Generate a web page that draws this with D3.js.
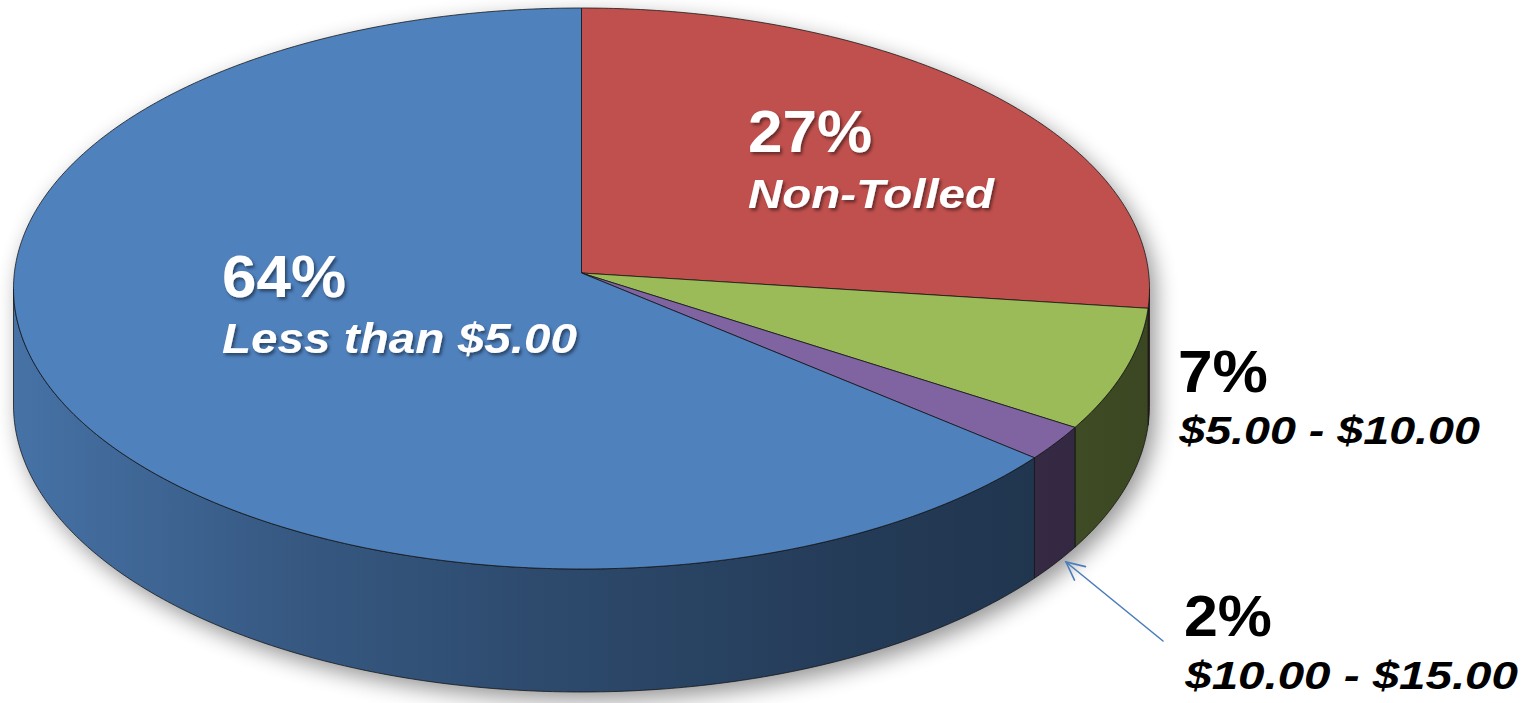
<!DOCTYPE html>
<html><head><meta charset="utf-8">
<script src="https://cdn.jsdelivr.net/npm/d3@7"></script>
<style>html,body{margin:0;padding:0;background:#fff;overflow:hidden}</style>
</head><body>
<svg id="chart" width="1536" height="703"></svg>
<script>
// ---- data ----
const categories = ["Non-Tolled", "$5.00 - $10.00", "$10.00 - $15.00", "Less than $5.00"];
const values = [27, 7, 2, 64];
const percentLabels = ["27%", "7%", "2%", "64%"];
const colors = ["#c0504d", "#9bbb59", "#8064a2", "#4f81bd"];

// ---- layout (perspective projection of a flat disc) ----
const svg = d3.select("#chart");
const cx = 581.5, rx = 568;
const yFar = 8, yNear = 569, yCenter = 273;   // image y of far edge, near edge and disc centre
const B = yCenter;
// solve: (-A+B)/(1-C)=yFar ; (A+B)/(1+C)=yNear
const Cp = (yFar + yNear - 2 * B) / (yFar - yNear);
const Ap = B - yFar * (1 - Cp);
const xNorm = 1 / Math.max(...d3.range(0, 1.0001, 0.001).map(v => Math.sqrt(1 - v * v) / (1 + Cp * v)));
const depth0 = 123 * (1 + Cp);
const defs = svg.append("defs");

const pie = d3.pie().sort(null).value(d => d.v);
const arcs = pie(categories.map((c, i) => ({c, v: values[i], col: colors[i], pct: percentLabels[i]})));

function pt(t, down = false) {
  const u = Math.sin(t), v = -Math.cos(t);
  const den = 1 + Cp * v;
  const x = cx + rx * xNorm * u / den;
  const y = (Ap * v + B) / den + (down ? depth0 / den : 0);
  return [x, y];
}
function arcPts(a0, a1, down = false) {
  const n = Math.max(2, Math.ceil((a1 - a0) / 0.01));
  return d3.range(n + 1).map(i => pt(a0 + (a1 - a0) * i / n, down));
}
const line = d3.line();
const edgeA = Math.acos(Cp);
const edgeB = 2 * Math.PI - edgeA;

// filters
const sf = defs.append("filter").attr("id", "shadow").attr("x", "-10%").attr("y", "-10%").attr("width", "120%").attr("height", "130%");
sf.append("feGaussianBlur").attr("stdDeviation", 11);
const tf = defs.append("filter").attr("id", "tshadow").attr("x", "-10%").attr("y", "-20%").attr("width", "130%").attr("height", "150%");
tf.append("feDropShadow").attr("dx", 2).attr("dy", 2.5).attr("stdDeviation", 1.5).attr("flood-color", "#000").attr("flood-opacity", 0.45);

// silhouette shadow
const sil = arcPts(edgeB - 2 * Math.PI, edgeA).concat(arcPts(edgeA, edgeB, true));
svg.append("path")
  .attr("d", line(sil) + "Z")
  .attr("fill", "#000").attr("opacity", 0.42)
  .attr("transform", "translate(6,8)")
  .attr("filter", "url(#shadow)");

// side gradients
const shade = d3.scaleLinear().domain([0, 0.25, 0.5, 0.75, 1]).range([0.88, 0.68, 0.56, 0.46, 0.38]);
arcs.forEach((a, i) => {
  const g = defs.append("linearGradient").attr("id", "side" + i)
    .attr("gradientUnits", "userSpaceOnUse").attr("x1", cx - rx).attr("x2", cx + rx).attr("y1", 0).attr("y2", 0);
  const base = d3.rgb(a.data.col);
  shade.domain().forEach(o => {
    const k = shade(o);
    g.append("stop").attr("offset", o).attr("stop-color", d3.rgb(base.r * k, base.g * k, base.b * k).formatHex());
  });
});

// sides
const sideG = svg.append("g");
arcs.forEach((a, i) => {
  const s = Math.max(a.startAngle, edgeA), e = Math.min(a.endAngle, edgeB);
  if (e <= s) return;
  const pts = arcPts(s, e).concat(arcPts(s, e, true).reverse());
  sideG.append("path").attr("d", line(pts) + "Z")
    .attr("fill", `url(#side${i})`)
    .attr("stroke", "#111").attr("stroke-opacity", 0.75).attr("stroke-width", 1).attr("stroke-linejoin", "round");
});

// tops
const apex = [cx, B];
const topG = svg.append("g");
arcs.forEach((a, i) => {
  const pts = [apex].concat(arcPts(a.startAngle, a.endAngle));
  topG.append("path").attr("d", line(pts) + "Z")
    .attr("fill", a.data.col)
    .attr("stroke", "#111").attr("stroke-opacity", 0.75).attr("stroke-width", 1).attr("stroke-linejoin", "round");
});

// labels
const labelPos = [
  {x: 748, y1: 152, y2: 208, w1: 124, w2: 248, fill: "#fff", s1: 59, s2: 40},
  {x: 1178, y1: 392, y2: 444, w1: 90, w2: 302, fill: "#000", s1: 59, s2: 38},
  {x: 1184, y1: 636, y2: 689, w1: 88, w2: 334, fill: "#000", s1: 57, s2: 38},
  {x: 222, y1: 297, y2: 353, w1: 124, w2: 355, fill: "#fff", s1: 59, s2: 42}
];
const lg = svg.append("g").attr("font-family", "Liberation Sans, Arial, sans-serif");
function fitText(g, x, y, size, w, italic, fill, str) {
  const t = g.append("text").attr("x", 0).attr("y", 0)
    .attr("font-size", size).attr("font-weight", "bold").attr("fill", fill)
    .attr("font-style", italic ? "italic" : "normal")
    .text(str);
  const bb = t.node().getBBox();
  const sx = w / bb.width;
  t.attr("transform", `translate(${x - bb.x * sx},${y}) scale(${sx},1)`);
}
arcs.forEach((a, i) => {
  const p = labelPos[i];
  const g = lg.append("g");
  if (p.fill === "#fff") g.attr("filter", "url(#tshadow)");
  fitText(g, p.x, p.y1, p.s1, p.w1, false, p.fill, a.data.pct);
  fitText(g, p.x, p.y2, p.s2, p.w2, true, p.fill, a.data.c);
});

// arrow to the 2% slice
const ax0 = 1163, ay0 = 641, ax1 = 1066, ay1 = 562;
const ang = Math.atan2(ay0 - ay1, ax0 - ax1);
const hl = 20, ha = 0.45;
const ag = svg.append("g").attr("stroke", "#4a7ebb").attr("stroke-width", 1.6).attr("fill", "none").attr("stroke-linecap", "round");
ag.append("line").attr("x1", ax0).attr("y1", ay0).attr("x2", ax1).attr("y2", ay1);
ag.append("path").attr("d", line([
  [ax1 + hl * Math.cos(ang - ha), ay1 + hl * Math.sin(ang - ha)],
  [ax1, ay1],
  [ax1 + hl * Math.cos(ang + ha), ay1 + hl * Math.sin(ang + ha)]
]));
</script>
</body></html>
